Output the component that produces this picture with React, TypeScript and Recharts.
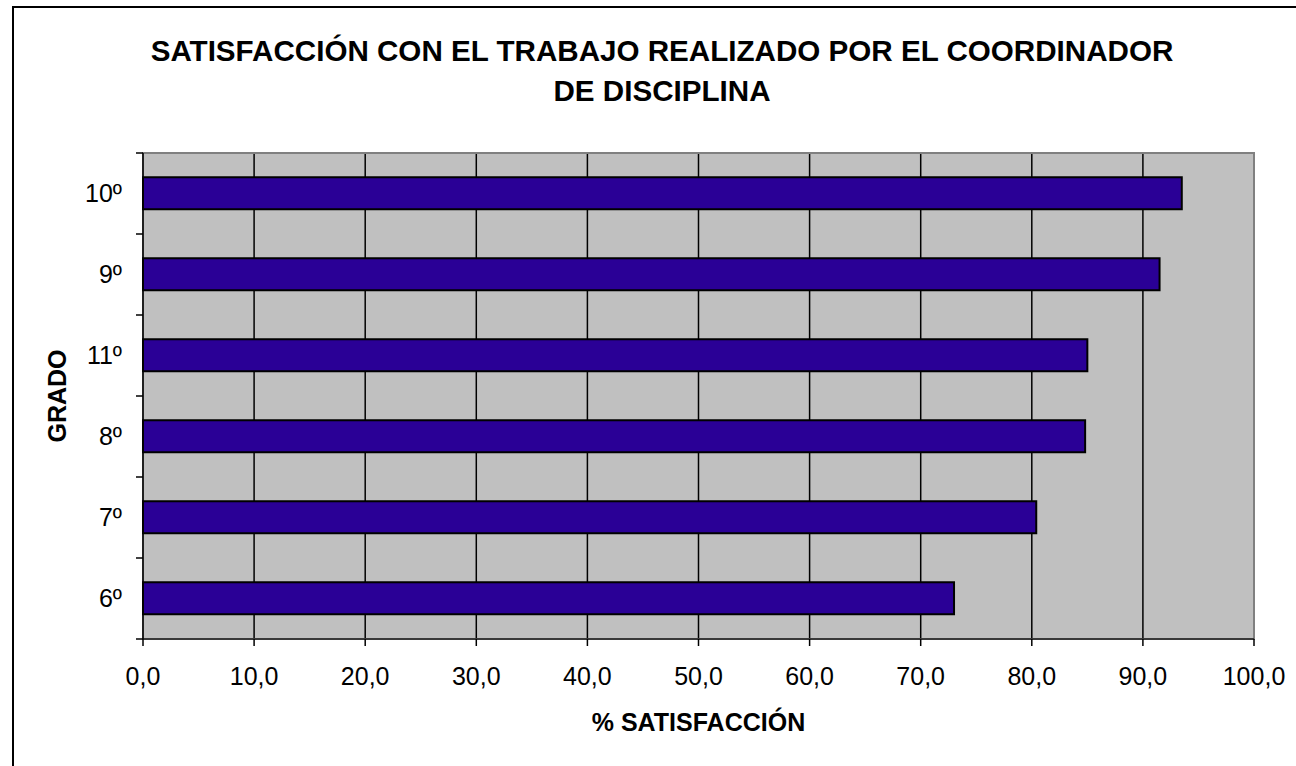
import { Bar, BarChart, CartesianGrid, Label, ReferenceArea, XAxis, YAxis } from "recharts";

const grades = ["10º", "9º", "11º", "8º", "7º", "6º"];
const satisfaction = [93.5, 91.5, 85.0, 84.8, 80.4, 73.0];
const xTicks = [0, 10, 20, 30, 40, 50, 60, 70, 80, 90, 100];
const gridValues = [10, 20, 30, 40, 50, 60, 70, 80, 90];
const titleLines = ["SATISFACCIÓN CON EL TRABAJO REALIZADO POR EL COORDINADOR", "DE DISCIPLINA"];
const xTitle = "% SATISFACCIÓN";
const yTitle = "GRADO";

const data = grades.map((grade, i) => ({ grade, value: satisfaction[i] }));

const FONT = "'Liberation Sans', Arial, sans-serif";
const TICK_SIZE = 7;
const TICK_MARGIN = 14;

function formatPercent(v: number) {
  return v.toFixed(1).replace(".", ",");
}

// category ticks: label in the middle of the band, tick marks on band edges (Excel style)
function GradeTick(props: any) {
  const { x, y, payload, index, visibleTicksCount } = props;
  const edge = x + TICK_MARGIN + TICK_SIZE;
  const half = payload?.offset ?? 0;
  return (
    <g>
      <text x={x} y={y} dy="0.355em" textAnchor="end" fontSize={25} fill="#000" fontFamily={FONT}>
        {payload.value}
      </text>
      <line x1={edge - TICK_SIZE} x2={edge} y1={y - half} y2={y - half} stroke="#000" strokeWidth={1.5} />
      {index === visibleTicksCount - 1 && (
        <line x1={edge - TICK_SIZE} x2={edge} y1={y + half} y2={y + half} stroke="#000" strokeWidth={1.5} />
      )}
    </g>
  );
}

function GradeTitle(props: any) {
  const vb = props.viewBox || { x: 0, y: 0, height: 0 };
  const tx = vb.x + 46;
  const ty = vb.y + vb.height / 2;
  return (
    <text
      x={tx}
      y={ty}
      transform={`rotate(-90, ${tx}, ${ty})`}
      textAnchor="middle"
      fontSize={25}
      fontWeight="bold"
      fill="#000"
      fontFamily={FONT}
    >
      {yTitle}
    </text>
  );
}

export default function App() {
  return (
    <div
      style={{
        position: "fixed",
        left: 0,
        top: 0,
        width: 1296,
        height: 766,
        overflow: "hidden",
        background: "#fff",
        fontFamily: FONT
      }}
    >
      <div
        style={{
          position: "absolute",
          left: 12,
          top: 6,
          width: 1400,
          height: 900,
          border: "2px solid #000"
        }}
      />
      <div style={{ position: "absolute", left: 0, top: 0 }}>
        <BarChart
          width={1296}
          height={766}
          data={data}
          layout="vertical"
          barCategoryGap="30%"
          margin={{ top: 153, right: 42, bottom: 27, left: 20 }}
        >
          <CartesianGrid
            horizontal={false}
            verticalValues={gridValues}
            stroke="#000"
            strokeWidth={1.5}
            fill="#c0c0c0"
            fillOpacity={1}
          />
          <ReferenceArea x1={0} x2={100} fill="none" stroke="#808080" strokeWidth={2} ifOverflow="visible" />
          <XAxis
            type="number"
            domain={[0, 100]}
            ticks={xTicks}
            tickFormatter={formatPercent}
            height={100}
            tickSize={TICK_SIZE}
            tickMargin={21}
            axisLine={{ stroke: "#222", strokeWidth: 1.5 }}
            tickLine={{ stroke: "#000", strokeWidth: 1.5 }}
            tick={{ fontSize: 25, fill: "#000", fontFamily: FONT }}
            interval={0}
          >
            <Label
              value={xTitle}
              position="insideBottom"
              offset={8}
              style={{ fontSize: 25, fontWeight: "bold", fill: "#000", fontFamily: FONT }}
            />
          </XAxis>
          <YAxis
            type="category"
            dataKey="grade"
            width={123}
            tickSize={TICK_SIZE}
            tickMargin={TICK_MARGIN}
            tickLine={false}
            axisLine={{ stroke: "#000", strokeWidth: 1.5 }}
            tick={<GradeTick />}
            interval={0}
          >
            <Label content={<GradeTitle />} position="insideLeft" />
          </YAxis>
          <Bar dataKey="value" fill="#2a0096" stroke="#000" strokeWidth={2} isAnimationActive={false} />
        </BarChart>
      </div>
      <div
        style={{
          position: "absolute",
          left: 0,
          top: 30.6,
          width: 1324,
          textAlign: "center",
          fontSize: 29.6,
          lineHeight: "40px",
          fontWeight: "bold",
          color: "#000"
        }}
      >
        {titleLines[0]}
        <br />
        {titleLines[1]}
      </div>
    </div>
  );
}
